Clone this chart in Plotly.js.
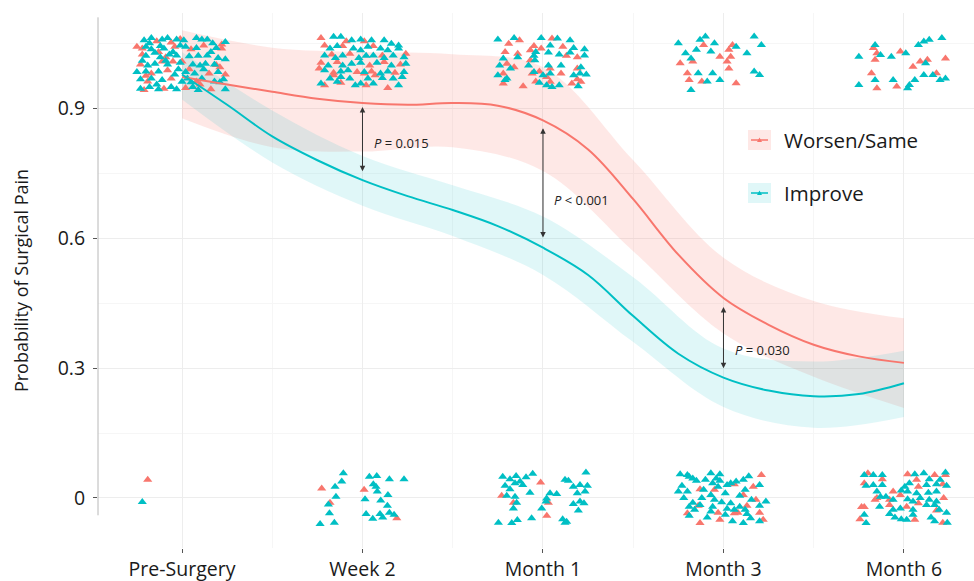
<!DOCTYPE html>
<html><head><meta charset="utf-8">
<script src="https://cdn.plot.ly/plotly-3.0.1.min.js"></script>
<style>html,body{margin:0;padding:0;background:#fff;}#chart{width:974px;height:581px;}</style>
</head><body><div id="chart"></div>
<script>
// ---------- DATA ----------
const categories = ['Pre-Surgery','Week 2','Month 1','Month 3','Month 6'];
const catPos = [0,1,2,3,4];
const yTickVals = [0,0.3,0.6,0.9];
const yTickText = ['0','0.3','0.6','0.9'];
const groupNames = ['Worsen/Same','Improve'];

// smoothed fit lines
const curveX = [0,0.25,0.5,0.75,1,1.25,1.5,1.75,2,2.25,2.5,2.75,3,3.25,3.5,3.75,4];
const worsenFit  = [0.972,0.955,0.938,0.922,0.912,0.908,0.912,0.906,0.872,0.805,0.690,0.562,0.462,0.400,0.354,0.327,0.312];
const improveFit = [0.978,0.908,0.835,0.780,0.734,0.697,0.665,0.628,0.578,0.515,0.420,0.333,0.278,0.248,0.235,0.240,0.265];

// confidence bands
const bandX = [0,0.5,1,1.5,2,2.5,3,3.5,4];
const worsenHi  = [1.080,1.040,1.030,1.025,0.995,0.780,0.555,0.455,0.415];
const worsenLo  = [0.877,0.810,0.800,0.810,0.755,0.570,0.380,0.280,0.208];
const improveHi = [1.030,0.895,0.790,0.722,0.650,0.510,0.345,0.315,0.340];
const improveLo = [0.920,0.775,0.675,0.605,0.515,0.360,0.210,0.162,0.187];

// jittered observations [x, y]
const wPre = [[-0.14,1.055],[-0.06,1.052],[0.22,1.047],[-0.25,1.042],[-0.22,1.038],[-0.04,1.042],[0.05,1.036],[0.22,1.038],[-0.22,1.024],[-0.09,1.018],[0.00,1.008],[-0.23,1.001],[-0.11,1.008],[-0.05,1.008],[0.21,0.995],[-0.17,0.980],[-0.08,0.988],[0.04,0.990],[0.15,0.980],[0.24,0.978],[-0.19,0.962],[-0.06,0.969],[0.08,0.962],[-0.21,0.942],[-0.10,0.945],[0.02,0.947],[0.16,0.944],[-0.13,1.03],[0.12,1.045],[-0.20,0.975],[0.10,0.955],[-0.01,1.06],[0.19,1.0],
  [-0.19,0.042]];
const wWk2 = [[0.77,1.062],[0.91,1.055],[1.01,1.055],[0.79,1.045],[0.89,1.044],[1.06,1.044],[1.24,1.026],[0.83,1.024],[0.93,1.026],[1.11,1.022],[0.77,1.005],[0.86,1.007],[1.04,0.999],[1.12,1.007],[1.21,1.001],[0.76,0.992],[0.84,0.982],[0.97,0.984],[1.05,0.985],[1.18,0.982],[0.84,0.976],[1.01,0.980],[1.07,0.976],[0.79,0.953],[0.88,0.959],[1.02,0.953],[1.14,0.947],
  [0.774,0.022],[0.820,-0.011],[1.009,0.019],[1.190,-0.047]];
const wM1 = [[1.81,1.049],[1.87,1.057],[2.05,1.061],[1.95,1.044],[2.11,1.042],[1.79,1.030],[1.86,1.026],[1.93,1.034],[1.99,1.038],[2.13,1.021],[2.19,1.018],[1.80,1.003],[1.84,0.995],[1.93,1.011],[2.04,0.992],[2.19,0.992],[1.78,0.980],[1.94,0.980],[1.98,0.985],[2.02,0.972],[2.10,0.980],[2.19,0.967],[1.78,0.957],[1.89,0.951],[1.96,0.962],[2.04,0.961],[2.16,0.957],[2.21,0.961],
  [1.987,0.036],[1.771,0.005],[1.836,-0.011],[2.030,-0.011],[2.021,-0.041]];
const wM3 = [[2.76,1.004],[2.80,0.981],[2.81,0.965],[2.89,1.046],[2.88,0.962],[2.83,1.008],[2.98,1.019],[3.03,1.035],[3.05,1.046],[3.04,1.019],[3.02,1.008],[3.03,0.992],[3.07,0.958],
  [2.87,0.020],[2.95,0.019],[3.06,0.032],[3.165,0.026],[3.21,0.053],[3.11,0.007],[2.80,-0.035],[2.86,-0.018],[2.97,-0.034],[3.06,-0.035],[3.08,-0.034],[3.13,-0.018],[3.18,-0.004],[3.20,-0.034],[2.87,-0.058],[2.98,-0.050],[3.22,-0.050]];
const wM6 = [[3.83,1.039],[3.84,1.012],[3.85,1.027],[3.82,0.981],[3.85,0.946],[3.96,0.950],[3.98,1.031],[4.05,0.996],[4.09,1.008],[4.13,1.012],[4.18,0.981],[4.23,1.015],
  [3.80,0.057],[3.88,0.043],[3.78,0.034],[4.02,0.055],[4.17,0.053],[4.23,0.053],[4.07,0.042],[4.08,0.026],[4.215,0.032],[3.94,0.015],[3.98,0.007],[3.92,-0.004],[3.85,0.0],[3.84,-0.004],[4.22,0.0],[4.08,-0.012],[3.765,-0.021],[3.78,-0.021],[3.92,-0.016],[4.015,-0.020],[4.18,-0.029],[4.06,-0.050],[4.215,-0.057],[3.756,-0.049]];

const iPre = [[-0.21,1.057],[-0.17,1.062],[-0.11,1.059],[-0.08,1.062],[-0.03,1.059],[0.01,1.057],[0.08,1.062],[0.11,1.059],[0.14,1.059],[0.24,1.053],
  [-0.20,1.042],[-0.17,1.036],[-0.12,1.044],[-0.10,1.038],[-0.01,1.045],[0.02,1.042],[0.08,1.039],[0.19,1.039],
  [-0.20,1.021],[-0.15,1.028],[-0.12,1.018],[-0.07,1.024],[-0.03,1.022],[0.09,1.021],[0.14,1.022],[0.20,1.016],[0.24,1.013],
  [-0.19,0.999],[-0.15,1.003],[-0.08,1.001],[-0.01,1.005],[0.06,1.001],[0.10,0.999],[0.13,1.003],[0.18,1.001],
  [-0.25,0.984],[-0.20,0.985],[-0.13,0.985],[-0.04,0.978],[0.02,0.984],[0.07,0.980],[0.20,0.984],
  [-0.23,0.967],[-0.17,0.969],[-0.11,0.965],[0.00,0.961],[0.03,0.969],[0.11,0.969],[0.18,0.962],[0.23,0.967],
  [-0.23,0.945],[-0.18,0.949],[-0.13,0.944],[-0.06,0.949],[-0.03,0.944],[0.06,0.949],[0.09,0.942],[0.24,0.944],
  [-0.18,1.05],[-0.05,1.03],[0.04,1.02],[0.16,1.03],[-0.22,1.01],[0.12,0.99],[-0.02,0.99],[0.21,0.96],[-0.14,0.955],[0.05,0.96],[-0.09,1.01],[0.17,1.05],
  [-0.22,-0.009]];
const iWk2 = [[0.84,1.065],[0.88,1.065],[0.94,1.057],[0.99,1.059],[1.05,1.057],[1.12,1.057],[1.16,1.049],[1.20,1.045],[0.82,1.038],[0.86,1.044],[0.95,1.038],[0.99,1.034],[1.03,1.042],[1.10,1.038],[1.14,1.034],[1.20,1.038],
  [0.79,1.022],[0.85,1.016],[0.89,1.022],[0.98,1.016],[1.02,1.021],[1.06,1.022],[1.12,1.016],[1.17,1.022],[1.23,1.018],[0.81,0.999],[0.89,0.999],[0.94,1.003],[0.99,1.005],[1.08,1.005],[1.16,0.999],[1.24,1.003],
  [0.79,0.988],[0.88,0.985],[0.92,0.988],[1.01,0.984],[1.10,0.980],[1.14,0.985],[1.23,0.984],[0.82,0.969],[0.88,0.972],[0.93,0.969],[1.03,0.969],[1.11,0.970],[1.17,0.969],[1.22,0.972],
  [0.77,0.957],[0.86,0.961],[0.96,0.953],[0.99,0.957],[1.06,0.957],[1.20,0.953],
  [0.894,0.057],[0.848,0.026],[0.885,0.038],[0.853,0.003],[0.811,-0.015],[0.817,-0.035],[0.765,-0.060],[0.844,-0.057],[1.038,0.049],[1.079,0.051],[1.060,0.032],[1.075,0.026],[1.082,0.015],[1.149,0.043],[1.230,0.043],[1.014,-0.003],[1.101,-0.006],[1.141,0.007],[1.138,-0.018],[1.020,-0.037],[1.057,-0.048],[1.097,-0.037],[1.112,-0.045],[1.149,-0.034],[1.175,-0.039]];
const iM1 = [[1.75,1.059],[1.84,1.062],[1.99,1.062],[2.08,1.061],[2.15,1.057],[2.04,1.045],[2.17,1.039],[2.23,1.036],[1.78,1.015],[1.86,1.018],[1.95,1.021],[1.96,1.030],[2.03,1.029],[2.09,1.024],[2.15,1.029],[2.23,1.022],
  [1.76,0.999],[1.82,0.992],[1.92,0.999],[1.955,1.011],[2.03,0.999],[2.10,0.999],[2.21,0.995],[2.24,0.978],[1.75,0.976],[1.80,0.969],[1.95,0.984],[2.00,0.976],[2.04,0.980],[2.17,0.976],[2.205,0.980],
  [1.79,0.965],[1.98,0.959],[2.02,0.953],[2.05,0.949],[2.09,0.953],[2.195,0.951],
  [1.777,0.049],[1.817,0.043],[1.851,0.051],[1.873,0.038],[1.906,0.048],[1.943,0.056],[1.790,0.028],[1.817,0.020],[1.845,0.034],[1.888,0.030],[2.122,0.042],[2.141,0.040],[2.168,0.026],[2.205,0.030],[2.238,0.059],[2.246,0.028],[2.233,0.015],[1.928,0.012],
  [1.799,0.005],[1.845,0.003],[1.854,-0.011],[2.020,-0.001],[2.039,0.011],[2.076,0.009],[2.190,0.011],[2.017,-0.008],[1.836,-0.024],[1.993,-0.024],[2.168,-0.014],[2.205,-0.008],[2.227,-0.012],[2.196,-0.029],
  [1.753,-0.057],[1.827,-0.058],[1.858,-0.051],[1.937,-0.047],[2.109,-0.049],[2.122,-0.057],[2.131,-0.055]];
const iM3 = [[2.75,1.050],[2.79,1.027],[2.82,1.015],[2.82,0.942],[2.87,1.058],[2.90,1.066],[2.85,1.035],[2.93,1.031],[2.86,0.981],[2.91,0.962],[2.94,0.981],[2.98,0.965],[3.07,1.042],[3.13,1.027],[3.17,1.066],[3.21,1.046],[3.17,0.985],[3.20,0.977],[2.95,1.050],
  [2.76,0.055],[2.80,0.053],[2.81,0.049],[2.83,0.045],[2.85,0.040],[2.77,0.028],[2.75,0.015],[2.80,0.015],[2.89,0.019],[2.93,0.057],[2.98,0.055],[2.96,0.045],[2.94,0.034],[2.97,0.026],[3.02,0.030],[3.04,0.034],[3.07,0.038],[3.11,0.042],[3.20,0.030],[3.12,0.019],[3.01,0.011],[2.93,0.007],[2.88,0.0],
  [2.83,-0.011],[2.81,-0.020],[2.84,-0.027],[2.81,-0.041],[2.87,-0.016],[2.95,-0.004],[2.94,-0.020],[2.93,-0.031],[3.01,-0.039],[3.04,-0.012],[3.06,-0.027],[3.09,-0.020],[3.12,-0.027],[3.13,-0.037],[3.155,-0.004],[3.20,-0.018],[3.235,-0.008],[3.05,-0.054],[3.11,-0.058],[3.15,-0.047],[3.20,-0.054],[2.98,0.040],[2.90,0.042],
  [2.78,0.0],[2.99,-0.01],[3.09,0.005],[2.91,-0.045],[3.14,0.05],[3.02,-0.025]];
const iM6 = [[3.75,1.019],[3.84,1.046],[3.87,1.023],[3.84,0.965],[3.75,0.954],[3.93,1.019],[3.94,0.965],[4.01,1.027],[4.02,0.946],[4.06,0.965],[4.08,1.046],[4.11,1.054],[4.12,1.004],[4.14,1.058],[4.21,1.062],[4.16,0.977],[4.20,0.965],[4.23,0.969],[4.11,0.977],[4.03,0.954],
  [3.78,0.053],[3.83,0.053],[3.88,0.053],[3.79,0.028],[3.83,0.030],[3.88,0.030],[4.06,0.055],[4.11,0.057],[4.23,0.059],[4.20,0.042],[4.14,0.043],[4.03,0.034],[4.005,0.026],[4.125,0.030],[4.18,0.032],[4.236,0.028],
  [3.85,0.015],[3.985,0.017],[4.02,0.015],[4.07,0.011],[4.135,0.012],[4.18,0.015],[3.90,0.003],[3.87,0.003],[3.94,-0.004],[4.02,-0.003],[4.05,-0.008],[4.09,0.0],[4.14,-0.004],[4.18,-0.008],[4.125,-0.016],[4.17,-0.016],
  [3.865,-0.020],[3.94,-0.027],[3.98,-0.024],[4.05,-0.027],[4.195,-0.027],[3.78,-0.039],[3.92,-0.037],[3.95,-0.045],[3.985,-0.049],[4.015,-0.050],[4.05,-0.039],[4.15,-0.045],[4.17,-0.054],[4.24,-0.057],[3.79,-0.058],[4.236,-0.034]];

// p-value brackets: x position, top, bottom, label
const pX = [1,2,3];
const pTop = [0.903,0.854,0.441];
const pBottom = [0.751,0.598,0.296];
const pLabelY = [0.820,0.688,0.342];
const pLabels = ['<i>P</i> = 0.015','<i>P</i> < 0.001','<i>P</i> = 0.030'];

// ---------- STYLE ----------
const RED = '#F8766D', CYAN = '#00BFC4';
const RED_FILL = 'rgba(248,118,109,0.17)', CYAN_FILL = 'rgba(0,191,196,0.12)';
const FONT = '"Open Sans", "Noto Sans", sans-serif';
const W = 974, H = 581, M = {l:98, r:0, t:13, b:33};
const pxX = p => (p - M.l) / (W - M.l - M.r);
const pxY = p => (H - M.b - p) / (H - M.t - M.b);

const wAll = [].concat(wPre, wWk2, wM1, wM3, wM6);
const iAll = [].concat(iPre, iWk2, iM1, iM3, iM6);

const traces = [
  {x: bandX, y: worsenLo, mode:'lines', line:{width:0, shape:'spline'}, hoverinfo:'skip', showlegend:false},
  {x: bandX, y: worsenHi, mode:'lines', fill:'tonexty', fillcolor: RED_FILL, line:{width:0, shape:'spline'}, hoverinfo:'skip', showlegend:false},
  {x: bandX, y: improveLo, mode:'lines', line:{width:0, shape:'spline'}, hoverinfo:'skip', showlegend:false},
  {x: bandX, y: improveHi, mode:'lines', fill:'tonexty', fillcolor: CYAN_FILL, line:{width:0, shape:'spline'}, hoverinfo:'skip', showlegend:false},
  {x: wAll.map(p=>p[0]), y: wAll.map(p=>p[1]), mode:'markers', name: groupNames[0], showlegend:false,
   marker:{symbol:'triangle-up', size:8, color: RED, line:{width:0}}},
  {x: iAll.map(p=>p[0]), y: iAll.map(p=>p[1]), mode:'markers', name: groupNames[1], showlegend:false,
   marker:{symbol:'triangle-up', size:8, color: CYAN, line:{width:0}}},
  {x: curveX, y: worsenFit, mode:'lines', name: groupNames[0], showlegend:false, line:{color: RED, width:2, shape:'spline'}},
  {x: curveX, y: improveFit, mode:'lines', name: groupNames[1], showlegend:false, line:{color: CYAN, width:2, shape:'spline'}}
];

const annotations = [];
pX.forEach((x, k) => {
  annotations.push({x: x, y: pTop[k], ax: x, ay: pBottom[k], xref:'x', yref:'y', axref:'x', ayref:'y',
    text:'', showarrow:true, arrowside:'end+start', arrowhead:2, startarrowhead:2,
    arrowsize:1.1, startarrowsize:1.1, arrowwidth:1, arrowcolor:'#333', standoff:0, startstandoff:0});
  annotations.push({x: x + 0.05, y: pLabelY[k], xref:'x', yref:'y', text: pLabels[k], showarrow:false,
    xanchor:'left', yanchor:'middle', font:{family: FONT, size:13, color:'#222'}});
});

// legend (drawn manually to mimic ggplot keys)
const legendRows = [{name: groupNames[0], color: RED, fill: RED_FILL, cy: 140},
                    {name: groupNames[1], color: CYAN, fill: CYAN_FILL, cy: 193}];
const shapes = [
  {type:'line', xref:'paper', yref:'y', x0:0, x1:0, y0:-0.04, y1:1.11, line:{color:'#b8b8b8', width:1}}
];
legendRows.forEach(r => {
  shapes.push({type:'rect', xref:'paper', yref:'paper', x0:pxX(748), x1:pxX(771), y0:pxY(r.cy+10), y1:pxY(r.cy-10),
    fillcolor: r.fill, line:{width:0}, layer:'below'});
  shapes.push({type:'line', xref:'paper', yref:'paper', x0:pxX(751), x1:pxX(768), y0:pxY(r.cy), y1:pxY(r.cy),
    line:{color: r.color, width:1.5}});
  shapes.push({type:'path', xref:'paper', yref:'paper',
    path:`M ${pxX(757)} ${pxY(r.cy+2)} L ${pxX(762)} ${pxY(r.cy+2)} L ${pxX(759.5)} ${pxY(r.cy-2.5)} Z`,
    fillcolor: r.color, line:{width:0}});
  annotations.push({xref:'paper', yref:'paper', x: pxX(782), y: pxY(r.cy), text: r.name, showarrow:false,
    xanchor:'left', yanchor:'middle', font:{family: FONT, size:20.5, color:'#1a1a1a'}});
});

const layout = {
  width: W, height: H, margin: M,
  paper_bgcolor:'#fff', plot_bgcolor:'#fff',
  showlegend:false,
  font:{family: FONT, color:'#1a1a1a'},
  xaxis:{
    range:[-0.4654, 4.388], tickmode:'array', tickvals: catPos, ticktext: categories,
    showgrid:true, gridcolor:'#ededed', gridwidth:1, zeroline:false, showline:false,
    ticks:'outside', ticklen:4, tickwidth:1, tickcolor:'#555',
    tickfont:{family: FONT, size:19.5, color:'#1a1a1a'},
    minor:{tickmode:'array', tickvals:[0.5,1.5,2.5,3.5], showgrid:true, gridcolor:'#f6f6f6', ticks:''}
  },
  yaxis:{
    range:[-0.1155, 1.12], tickmode:'array', tickvals: yTickVals, ticktext: yTickText,
    showgrid:true, gridcolor:'#ededed', gridwidth:1, zeroline:false, showline:false,
    ticks:'outside', ticklen:4, tickwidth:1, tickcolor:'#555', ticklabelstandoff:4,
    tickfont:{family: FONT, size:19.5, color:'#1a1a1a'},
    minor:{tickmode:'array', tickvals:[0.15,0.45,0.75,1.05], showgrid:true, gridcolor:'#f6f6f6', ticks:''},
    title:{text:'Probability of Surgical Pain', font:{family: FONT, size:18, color:'#1a1a1a'}, standoff:24}
  },
  shapes: shapes,
  annotations: annotations
};

Plotly.newPlot('chart', traces, layout, {displayModeBar:false, staticPlot:true});
</script></body></html>
